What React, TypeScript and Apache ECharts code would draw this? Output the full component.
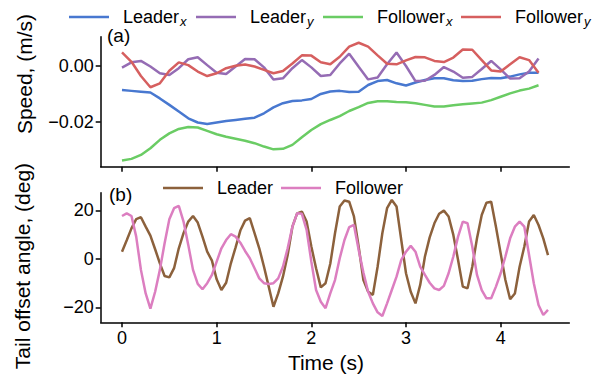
import React, { useEffect, useRef } from "react";
import * as echarts from "echarts";

// ---- Data ----
const timeTop: number[] = Array.from({ length: 45 }, (_, i) => Math.round(i * 10) / 100); // 0..4.4 step 0.1

const leaderX = [-0.0087, -0.0090, -0.0093, -0.0096, -0.0117, -0.0140, -0.0164, -0.0188, -0.0203, -0.0208,
  -0.0203, -0.0198, -0.0194, -0.0190, -0.0186, -0.0170, -0.0149, -0.0134, -0.0126, -0.0124,
  -0.0119, -0.0101, -0.0092, -0.0090, -0.0094, -0.0093, -0.0069, -0.0055, -0.0051, -0.0063,
  -0.0071, -0.0060, -0.0051, -0.0045, -0.0045, -0.0052, -0.0055, -0.0054, -0.0048, -0.0044,
  -0.0045, -0.0039, -0.0031, -0.0025, -0.0025];
const leaderY = [-0.0007, 0.0012, 0.0017, -0.0003, -0.0027, -0.0033, -0.0009, 0.0023, 0.0030, 0.0002,
  -0.0025, -0.0030, -0.0003, 0.0024, 0.0023, -0.0006, -0.0049, -0.0045, -0.0009, 0.0020,
  -0.0006, -0.0037, -0.0033, 0.0008, 0.0043, -0.0004, -0.0049, -0.0042, 0.0005, 0.0047,
  -0.0001, -0.0055, -0.0054, -0.0033, -0.0005, -0.0021, -0.0043, -0.0040, -0.0012, 0.0017,
  -0.0013, -0.0046, -0.0045, -0.0021, 0.0026];
const followerX = [-0.0339, -0.0333, -0.0319, -0.0295, -0.0265, -0.0242, -0.0226, -0.0219, -0.0221, -0.0233,
  -0.0245, -0.0254, -0.0261, -0.0268, -0.0277, -0.0289, -0.0299, -0.0297, -0.0283, -0.0256,
  -0.0230, -0.0209, -0.0194, -0.0180, -0.0162, -0.0148, -0.0133, -0.0127, -0.0127, -0.0130,
  -0.0131, -0.0134, -0.0140, -0.0146, -0.0146, -0.0141, -0.0138, -0.0135, -0.0132, -0.0123,
  -0.0111, -0.0099, -0.0089, -0.0082, -0.0070];
const followerY = [0.0048, 0.0014, -0.0037, -0.0077, -0.0063, -0.0018, 0.0012, 0.0002, -0.0021, -0.0037,
  -0.0027, -0.0009, 0.0000, 0.0004, -0.0003, -0.0015, -0.0027, -0.0019, 0.0008, 0.0037,
  0.0036, 0.0012, 0.0005, 0.0032, 0.0068, 0.0082, 0.0068, 0.0037, 0.0007, 0.0005,
  0.0019, 0.0031, 0.0030, 0.0017, 0.0013, 0.0029, 0.0058, 0.0057, 0.0020, -0.0017,
  -0.0021, 0.0005, 0.0030, 0.0020, -0.0025];

const timeBottom: number[] = Array.from({ length: 91 }, (_, i) => Math.round(i * 5) / 100); // 0..4.5 step 0.05
const leaderAngle = [3.0, 7.7, 12.6, 16.4, 17.2, 13.3, 9.6, 4.0, -1.8, -7.0,
  -7.6, -3.8, 4.4, 10.6, 15.4, 17.7, 15.0, 9.2, 3.0, -0.7,
  -8.4, -12.8, -9.8, -1.8, 4.8, 11.7, 15.8, 16.8, 10.6, 4.4,
  -3.2, -11.4, -19.7, -14.2, -7.3, 1.6, 13.3, 18.8, 19.5, 15.4,
  5.1, -3.8, -11.7, -10.0, -2.0, 10.6, 21.6, 24.1, 23.6, 17.5,
  5.1, -8.7, -13.5, -14.8, -3.2, 10.6, 20.9, 24.3, 21.6, 7.8,
  -5.9, -13.5, -18.3, -10.7, 1.0, 8.9, 14.7, 18.6, 19.9, 17.5,
  9.9, -0.4, -11.4, -12.1, -3.2, 8.5, 18.1, 23.2, 23.6, 13.3,
  2.3, -8.7, -16.6, -14.2, -3.2, 5.1, 15.4, 18.1, 14.0, 8.5,
  1.6];
const followerAngle = [17.7, 18.8, 17.7, 9.2, -4.5, -14.2, -20.5, -13.5, -4.5, 6.5,
  16.4, 20.9, 21.9, 15.4, 5.8, -4.5, -10.3, -12.5, -10.0, -6.6,
  -1.1, 4.4, 7.8, 10.2, 9.2, 6.7, 3.3, 0.3, -3.8, -8.0,
  -10.0, -10.3, -10.0, -8.0, -3.2, 4.4, 13.3, 18.8, 18.6, 12.0,
  -1.1, -12.8, -17.6, -20.3, -14.2, -8.7, 0.3, 7.8, 13.1, 14.0,
  3.7, -5.6, -13.5, -18.3, -22.0, -23.5, -18.3, -12.8, -7.3, -0.4,
  3.0, 5.4, 3.0, -3.2, -6.6, -9.8, -12.1, -12.8, -11.1, -5.9,
  1.0, 9.2, 15.4, 14.7, 5.1, -6.6, -12.8, -16.2, -16.2, -11.4,
  -5.9, 1.0, 8.5, 13.3, 15.4, 13.3, 1.6, -10.0, -19.0, -23.1,
  -21.0];

const xTicks = [0, 1, 2, 3, 4];
const speedTicks = [-0.02, 0];
const angleTicks = [-20, 0, 20];

// ---- Style ----
const FONT = "Liberation Sans, Arial, Helvetica, sans-serif";
const C = {
  leaderX: "#4878d0",
  leaderY: "#956cb4",
  followerX: "#6acc64",
  followerY: "#d65f5f",
  leader: "#8c613c",
  follower: "#dc7ec0",
};

const pair = (xs: number[], ys: number[]) => ys.map((v, i) => [xs[i], v]);
const minusFmt = (v: number, d: number) => (v < 0 ? "\u2212" : "") + Math.abs(v).toFixed(d);

function xAxis(gridIndex: number, showLabels: boolean) {
  return {
    type: "value",
    gridIndex,
    min: -0.225,
    max: 4.725,
    axisLine: { show: true, onZero: false, lineStyle: { color: "#000", width: 1.5 } },
    axisTick: { show: true, length: 5, lineStyle: { color: "#000", width: 1.5 }, customValues: xTicks },
    axisLabel: {
      show: showLabels,
      customValues: xTicks,
      fontSize: 18,
      color: "#000",
      fontFamily: FONT,
      margin: 7,
      formatter: (v: number) => String(v),
    },
    splitLine: { show: false },
  };
}

function yAxis(gridIndex: number, min: number, max: number, ticks: number[], dec: number) {
  return {
    type: "value",
    gridIndex,
    min,
    max,
    axisLine: { show: true, onZero: false, lineStyle: { color: "#000", width: 1.5 } },
    axisTick: { show: true, length: 5, lineStyle: { color: "#000", width: 1.5 }, customValues: ticks },
    axisLabel: {
      customValues: ticks,
      fontSize: 18,
      color: "#000",
      fontFamily: FONT,
      margin: 7,
      formatter: (v: number) => minusFmt(v, dec),
    },
    splitLine: { show: false },
  };
}

const LABELS: Record<string, string> = {
  Leader_x: "Leader{sub|x}",
  Leader_y: "Leader{sub|y}",
  Follower_x: "Follower{sub|x}",
  Follower_y: "Follower{sub|y}",
  Leader: "Leader",
  Follower: "Follower",
};

function legendItem(name: string, left: number, top: number) {
  return {
    data: [name],
    left,
    top,
    padding: 0,
    icon: "rect",
    itemWidth: 40,
    itemHeight: 2.5,
    formatter: (n: string) => LABELS[n],
    textStyle: {
      fontSize: 18,
      color: "#000",
      fontFamily: FONT,
      padding: [0, 0, 0, 9],
      rich: {
        sub: { fontSize: 13, fontStyle: "italic", fontFamily: FONT, color: "#000", padding: [9, 0, 0, 1], verticalAlign: "bottom" },
      },
    },
  };
}

function lineSeries(name: string, data: number[][], color: string, axis: number) {
  return {
    type: "line",
    name,
    data,
    xAxisIndex: axis,
    yAxisIndex: axis,
    symbol: "none",
    lineStyle: { color, width: 2.5 },
    itemStyle: { color },
    z: 2,
  };
}

export default function App() {
  const ref = useRef<HTMLDivElement>(null);
  useEffect(() => {
    const chart = echarts.init(ref.current!, null, { renderer: "svg" });
    const option = {
      animation: false,
      backgroundColor: "#fff",
      grid: [
        { left: 100.7, top: 36.7, width: 468.6, height: 130, containLabel: false },
        { left: 100.7, top: 192.7, width: 468.6, height: 129.6, containLabel: false },
      ],
      xAxis: [xAxis(0, false), xAxis(1, true)],
      yAxis: [yAxis(0, -0.0361, 0.01036, speedTicks, 2), yAxis(1, -26.1, 27.3, angleTicks, 0)],
      legend: [
        legendItem("Leader_x", 69, 8),
        legendItem("Leader_y", 196, 8),
        legendItem("Follower_x", 323, 8),
        legendItem("Follower_y", 461, 8),
        legendItem("Leader", 163, 179),
        legendItem("Follower", 281, 179),
      ],
      series: [
        lineSeries("Leader_x", pair(timeTop, leaderX), C.leaderX, 0),
        lineSeries("Leader_y", pair(timeTop, leaderY), C.leaderY, 0),
        lineSeries("Follower_x", pair(timeTop, followerX), C.followerX, 0),
        lineSeries("Follower_y", pair(timeTop, followerY), C.followerY, 0),
        lineSeries("Leader", pair(timeBottom, leaderAngle), C.leader, 1),
        lineSeries("Follower", pair(timeBottom, followerAngle), C.follower, 1),
      ],
      graphic: [
        { type: "text", left: 107, top: 26, style: { text: "(a)", fontSize: 19, fontFamily: FONT, fill: "#000" } },
        { type: "text", left: 109, top: 185, style: { text: "(b)", fontSize: 19, fontFamily: FONT, fill: "#000" } },
        {
          type: "text", x: 24, y: 74, rotation: Math.PI / 2,
          style: { text: "Speed, (m/s)", fontSize: 21, fontFamily: FONT, fill: "#000", align: "center", verticalAlign: "middle" },
        },
        {
          type: "text", x: 22, y: 266, rotation: Math.PI / 2,
          style: { text: "Tail offset angle, (deg)", fontSize: 21, fontFamily: FONT, fill: "#000", align: "center", verticalAlign: "middle" },
        },
        {
          type: "text", x: 326, y: 362,
          style: { text: "Time (s)", fontSize: 21, fontFamily: FONT, fill: "#000", align: "center", verticalAlign: "middle" },
        },
      ],
    };
    chart.setOption(option as any);
    return () => chart.dispose();
  }, []);
  return <div ref={ref} style={{ position: "absolute", left: 0, top: 0, width: 607, height: 386 }} />;
}
